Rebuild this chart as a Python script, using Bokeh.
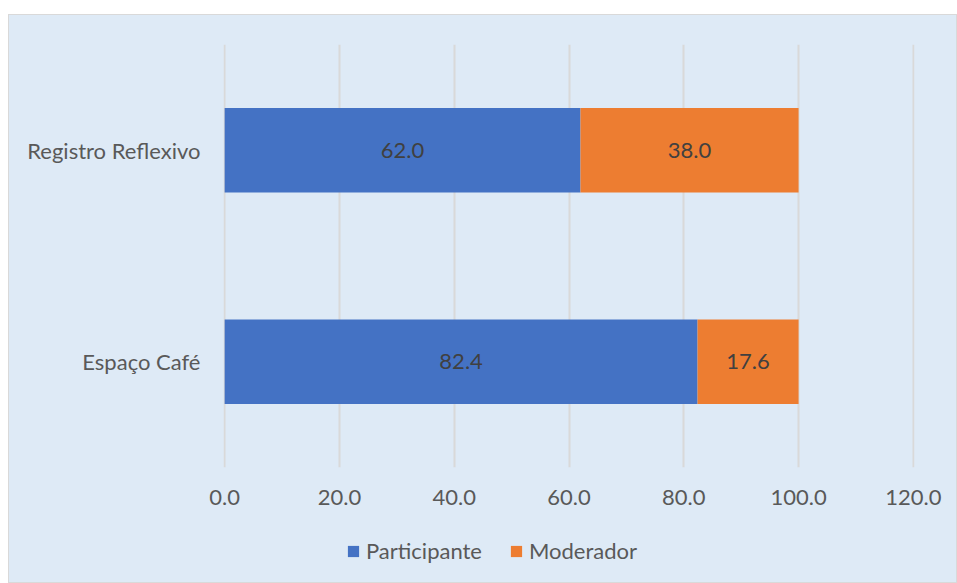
from bokeh.plotting import figure
from bokeh.models import (ColumnDataSource, FactorRange, Range1d, FixedTicker,
                          NumeralTickFormatter, LabelSet, Legend, LegendItem, Spacer)
from bokeh.layouts import column, row
from bokeh.core.properties import value
from bokeh.embed import file_html
from bokeh.resources import INLINE

categories = ["Espaço Café", "Registro Reflexivo"]
participante = [82.4, 62.0]
moderador = [17.6, 38.0]
series_names = ["Participante", "Moderador"]
colors = ["#4472C4", "#ED7D31"]
x_ticks = [0, 20, 40, 60, 80, 100, 120]

BG = "#DEEAF6"
FONT = "Lato"
FS = "22px"

src = ColumnDataSource(dict(
    cat=categories,
    Participante=participante,
    Moderador=moderador,
    p_mid=[v / 2 for v in participante],
    m_mid=[a + b / 2 for a, b in zip(participante, moderador)],
    p_lab=["%.1f" % v for v in participante],
    m_lab=["%.1f" % v for v in moderador],
))

p = figure(width=949, height=511, y_range=FactorRange(*categories),
           x_range=Range1d(-0.2, 120.2), output_backend="svg", toolbar_location=None,
           min_border_left=215, min_border_right=43, min_border_top=30,
           min_border_bottom=58)
p.background_fill_alpha = 0
p.border_fill_alpha = 0
p.outline_line_color = None

p.hbar_stack(series_names, y="cat", height=0.4, color=colors, source=src,
             line_color=None)

for xcol, lcol in (("p_mid", "p_lab"), ("m_mid", "m_lab")):
    p.add_layout(LabelSet(x=xcol, y="cat", text=lcol, source=src,
                          text_align="center", text_baseline="middle",
                          text_font=value(FONT), text_font_size=FS,
                          text_color="#404040"))

p.xaxis.ticker = FixedTicker(ticks=x_ticks)
p.xaxis.formatter = NumeralTickFormatter(format="0.0")
for ax in (p.xaxis, p.yaxis):
    ax.axis_line_color = None
    ax.major_tick_line_color = None
    ax.minor_tick_line_color = None
    ax.major_label_text_font = FONT
    ax.major_label_text_font_size = FS
    ax.major_label_text_color = "#595959"
p.xaxis.major_label_standoff = 16
p.yaxis.major_label_standoff = 17

p.ygrid.grid_line_color = None
p.xgrid.grid_line_color = "#D9D9D9"
p.xgrid.grid_line_width = 2

# legend strip below the chart (its bars have zero height, only the legend shows)
lp = figure(width=949, height=58, x_range=Range1d(-2, -1),
            y_range=FactorRange(*categories),
            output_backend="svg", toolbar_location=None,
            min_border_left=215, min_border_right=43, min_border_top=0,
            min_border_bottom=0, x_axis_location=None, y_axis_location=None)
lp.background_fill_alpha = 0
lp.border_fill_alpha = 0
lp.outline_line_color = None
lp.grid.visible = False
lrs = lp.hbar_stack(series_names, y="cat", height=0, color=colors, source=src,
                    line_color=None)

legend = Legend(items=[LegendItem(label=n, renderers=[r]) for n, r in zip(series_names, lrs)],
                orientation="horizontal", location=(123, 19),
                background_fill_alpha=0, border_line_color=None,
                label_text_font=FONT, label_text_font_size=FS,
                label_text_color="#595959", glyph_width=14, glyph_height=14,
                spacing=27, label_standoff=6, padding=6, margin=0)
lp.add_layout(legend, "center")

chart = column(p, lp, styles={"outline": "1px solid #D9D9D9", "outline-offset": "-1px",
                              "background-color": BG})
layout = row(Spacer(width=8), column(Spacer(height=14), chart))
open("out.html", "w").write(file_html(layout, INLINE))
